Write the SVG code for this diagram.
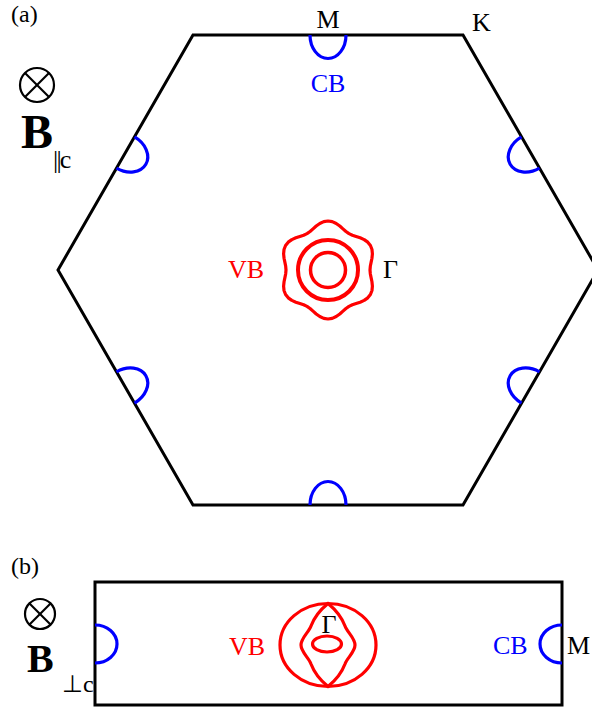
<svg xmlns="http://www.w3.org/2000/svg" width="592" height="711" viewBox="0 0 592 711">
<style>
text{font-family:"Liberation Serif","Times New Roman",serif;}
.lbl{font-size:26px;fill:#000;}
.blue{fill:#0000ff;}
.red{fill:#ff0000;}
.edge{fill:none;stroke:#000;stroke-width:3;}
.cb{fill:none;stroke:#0000ff;stroke-width:3.2;}
.vb{fill:none;stroke:#ff0000;stroke-width:3.2;}
.otimes{fill:none;stroke:#000;stroke-width:2.2;}
</style>
<defs>
<path id="pocketA" d="M -18,0 A 18 23.5 0 0 0 18,0" class="cb"/>
</defs>
<rect width="592" height="711" fill="#fff"/>

<g id="panel-a">
  <text x="11" y="22" style="font-size:24px">(a)</text>
  <g id="otimes-a" class="otimes">
    <circle cx="37" cy="85" r="17"/>
    <line x1="25" y1="73" x2="49" y2="97"/>
    <line x1="49" y1="73" x2="25" y2="97"/>
  </g>
  <text x="21" y="148" style="font-size:48px;font-weight:bold">B</text>
  <text x="53" y="168" style="font-size:26px"><tspan letter-spacing="-1.8">||</tspan>c</text>

  <polygon id="bz-hexagon" class="edge" points="193,35 463,35 598,270 463,505 193,505 58,270"/>

  <g id="cb-pockets">
    <use href="#pocketA" transform="translate(328,35)"/>
    <use href="#pocketA" transform="translate(328,505) rotate(180)"/>
    <use href="#pocketA" transform="translate(125.5,152.5) rotate(-60)"/>
    <use href="#pocketA" transform="translate(530.5,152.5) rotate(60)"/>
    <use href="#pocketA" transform="translate(125.5,387.5) rotate(-120)"/>
    <use href="#pocketA" transform="translate(530.5,387.5) rotate(120)"/>
  </g>

  <g id="vb-a">
    <circle class="vb" cx="328" cy="270" r="17.5" style="stroke-width:3.5"/>
    <circle class="vb" cx="328" cy="270" r="30" style="stroke-width:4"/>
    <polygon class="vb" stroke-linejoin="round" points="370,270 370.31,266.3 371.09,262.4 371.95,258.22 372.4,253.84 371.98,249.49 370.43,245.5 367.76,242.16 364.19,239.63 360.17,237.83 356.12,236.49 352.36,235.21 349,233.63 345.95,231.51 342.96,228.89 339.78,226.05 336.2,223.47 332.23,221.65 328,221 323.77,221.65 319.8,223.47 316.22,226.05 313.04,228.89 310.05,231.51 307,233.63 303.64,235.21 299.88,236.49 295.83,237.83 291.81,239.63 288.24,242.16 285.57,245.5 284.02,249.49 283.6,253.84 284.05,258.22 284.91,262.4 285.69,266.3 286,270 285.69,273.7 284.91,277.6 284.05,281.78 283.6,286.16 284.02,290.51 285.57,294.5 288.24,297.84 291.81,300.37 295.83,302.17 299.88,303.51 303.64,304.79 307,306.37 310.05,308.49 313.04,311.11 316.22,313.95 319.8,316.53 323.77,318.35 328,319 332.23,318.35 336.2,316.53 339.78,313.95 342.96,311.11 345.95,308.49 349,306.37 352.36,304.79 356.12,303.51 360.17,302.17 364.19,300.37 367.76,297.84 370.43,294.5 371.98,290.51 372.4,286.16 371.95,281.78 371.09,277.6 370.31,273.7"/>
  </g>

  <text class="lbl" x="328" y="28" text-anchor="middle">M</text>
  <text class="lbl" x="472" y="31">K</text>
  <text class="lbl blue" x="328" y="92" text-anchor="middle">CB</text>
  <text class="lbl red" x="228" y="278">VB</text>
  <text class="lbl" x="383" y="278">Γ</text>
</g>

<g id="panel-b">
  <text x="11" y="574" style="font-size:24px">(b)</text>
  <g id="otimes-b" class="otimes">
    <circle cx="40" cy="614" r="15"/>
    <line x1="29.5" y1="603.5" x2="50.5" y2="624.5"/>
    <line x1="50.5" y1="603.5" x2="29.5" y2="624.5"/>
  </g>
  <text x="27" y="672" style="font-size:40px;font-weight:bold">B</text>
  <text x="62" y="692" style="font-size:24px">⊥c</text>

  <rect id="bz-rect" class="edge" x="95" y="582" width="467" height="123"/>

  <g id="cb-pockets-b">
    <path class="cb" d="M 95,625 A 22 19 0 0 1 95,663"/>
    <path class="cb" d="M 562,625 A 22 19 0 0 0 562,663"/>
  </g>

  <g id="vb-b">
    <ellipse class="vb" cx="328" cy="645" rx="48" ry="41.5"/>
    <path class="vb" d="M 328,603.5 C 320,610 314,618 311,626 C 309,632 301,638 301,645 C 301,652 309,658 311,664 C 314,672 320,680 328,686.5 C 336,680 342,672 345,664 C 347,658 355,652 355,645 C 355,638 347,632 345,626 C 342,618 336,610 328,603.5 Z"/>
    <ellipse class="vb" cx="327" cy="644" rx="14.5" ry="8"/>
  </g>

  <text class="lbl" x="329" y="633" text-anchor="middle">Γ</text>
  <text class="lbl red" x="229" y="655">VB</text>
  <text class="lbl blue" x="493" y="654">CB</text>
  <text class="lbl" x="567" y="654">M</text>
</g>
</svg>
